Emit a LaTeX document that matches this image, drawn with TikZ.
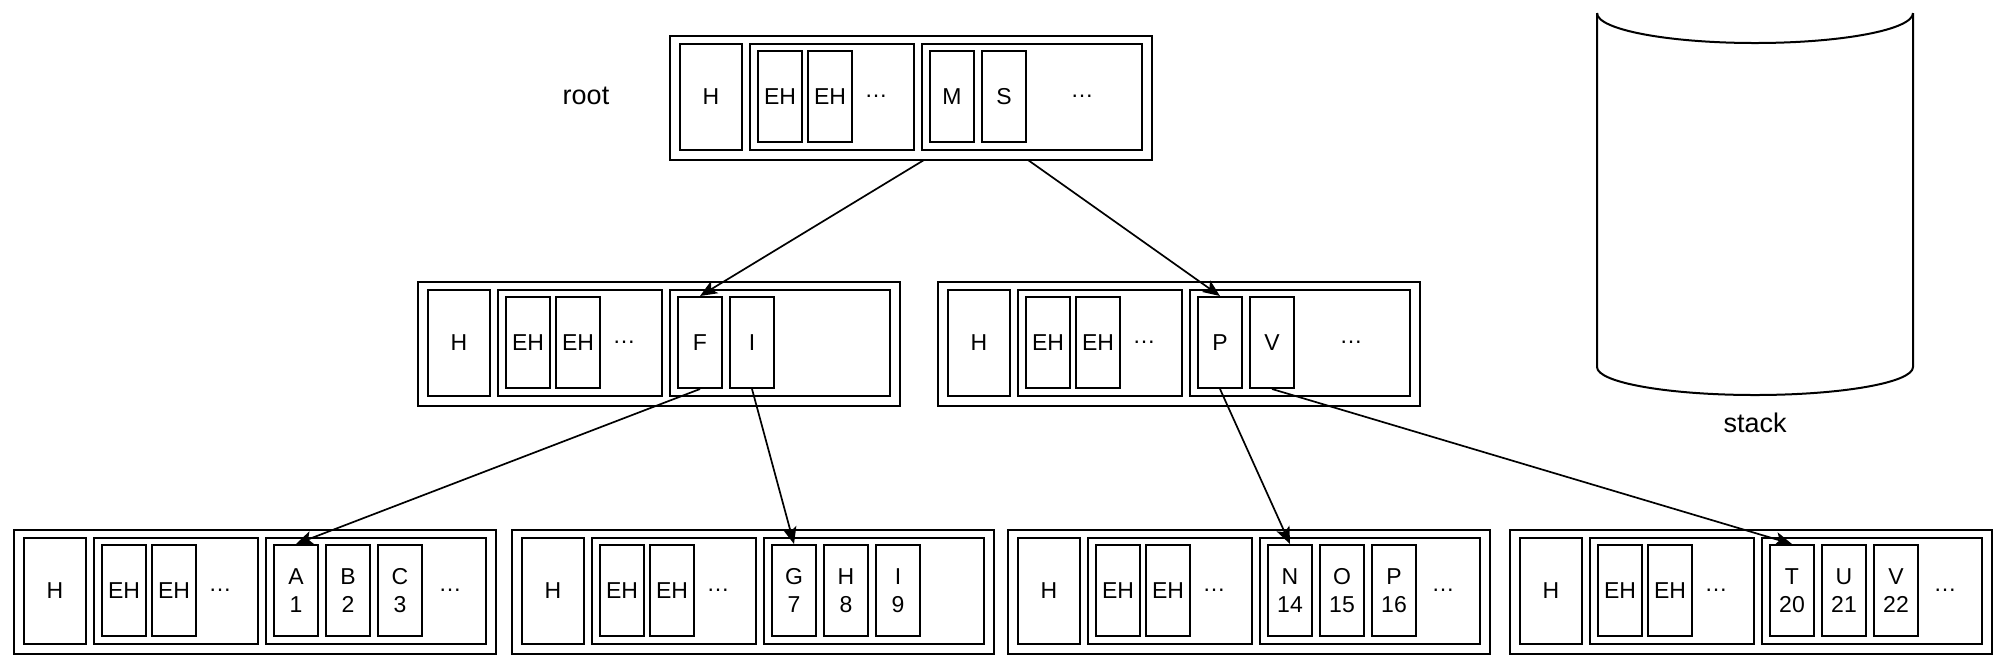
\documentclass[tikz,border=0pt]{standalone}
\usepackage{fontspec}
\setmainfont{Liberation Sans}
\usetikzlibrary{arrows.meta,backgrounds}
\tikzset{
  box/.style={draw,line width=1pt,inner sep=0pt,anchor=north west},
  pagebox/.style={box,minimum width=241pt,minimum height=62pt},
  grpbox/.style={box,minimum height=53pt},
  cellbox/.style={box,minimum width=22pt,minimum height=45.5pt,align=center},
  ptr/.style={line width=0.85pt,-{Stealth[length=8.5pt,width=7pt,inset=2pt]}},
  lbl/.style={font=\fontsize{13.5}{16}\selectfont}
}
\begin{document}
\begin{tikzpicture}[x=0.5pt,y=-0.5pt,font=\fontsize{11.5}{14}\selectfont]
  \useasboundingbox (0,0) rectangle (2002,666);
  % pages: name/left/top/fill/keys/dots/dots x
  \foreach \nm/\ox/\oy/\fl/\keys/\dt/\dx in {root/669/35/white/{M,S}/…/413,
      ml/417/281/none/{F,I}/{}/413, mr/937/281/none/{P,V}/…/414,
      b1/13/529/none/{A\\1,B\\2,C\\3}/…/437, b2/511/529/none/{G\\7,H\\8,I\\9}/{}/437,
      b3/1007/529/none/{N\\14,O\\15,P\\16}/…/436, b4/1509/529/none/{T\\20,U\\21,V\\22}/…/436}{
    \begin{scope}[every node/.append style={fill=\fl}]
    \node[pagebox,name=\nm] at (\ox,\oy) {};
    \node[grpbox,minimum width=31pt,name=\nm-h] at (\ox+10,\oy+8) {H};
    \node[grpbox,minimum width=82pt,name=\nm-eh] at (\ox+80,\oy+8) {};
    \node[cellbox,name=\nm-e1] at (\ox+88,\oy+15) {EH};
    \node[cellbox,name=\nm-e2] at (\ox+138,\oy+15) {EH};
    \node[name=\nm-ed] at (\ox+207,\oy+61) {…};
    \node[grpbox,minimum width=110pt,name=\nm-kg] at (\ox+252,\oy+8) {};
    \foreach \k [count=\i] in \keys{
      \node[cellbox,name=\nm-k\i] at (\ox+208+52*\i,\oy+15) {\k};
    };
    \node[name=\nm-kd] at (\ox+\dx,\oy+61) {\dt};
    \end{scope}
  };
  \node[lbl,name=rootlbl] at (586,96) {root};
  % stack
  \draw[line width=1pt] (1597,13) -- (1597,367)
    arc[start angle=180,end angle=0,x radius=158,y radius=28] -- (1913,13);
  \draw[line width=1pt] (1597,13) arc[start angle=180,end angle=0,x radius=158,y radius=30];
  \node[lbl,name=stacklbl] at (1755,423) {stack};
  % pointers
  \begin{scope}[on background layer]
    \draw[ptr] (root-k1.south) -- (ml-k1.north);
    \draw[ptr] (root-k2.south) -- (mr-k1.north);
  \end{scope}
  \draw[ptr] (ml-k1.south) -- (b1-k1.north);
  \draw[ptr] (ml-k2.south) -- (b2-k1.north);
  \draw[ptr] (mr-k1.south) -- (b3-k1.north);
  \draw[ptr] (mr-k2.south) -- (b4-k1.north);
\end{tikzpicture}
\end{document}
